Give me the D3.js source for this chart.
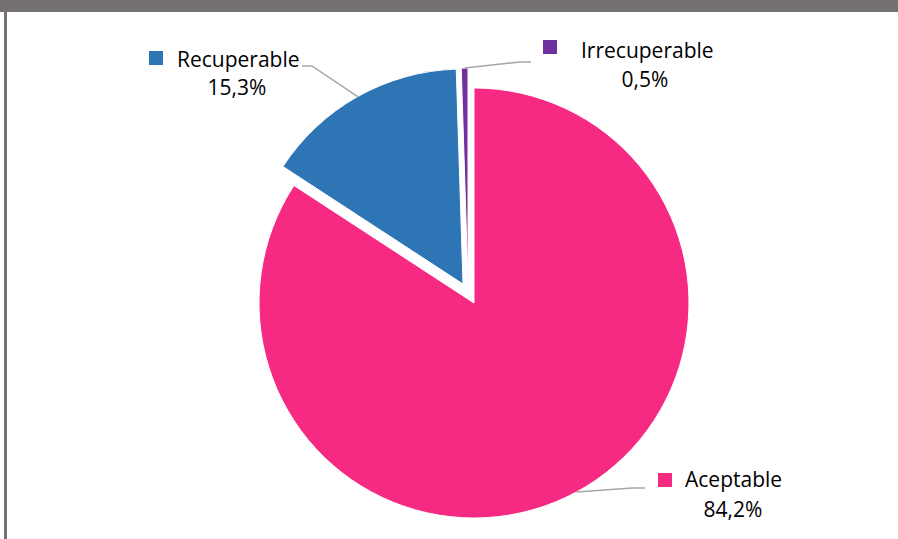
<!DOCTYPE html>
<html>
<head>
<meta charset="utf-8">
<script src="https://cdn.jsdelivr.net/npm/d3@7"></script>
<style>
  body { margin: 0; background: #fff; }
  svg { display: block; }
</style>
</head>
<body>
<script>
// chart data
var categories = ["Aceptable", "Recuperable", "Irrecuperable"];
var values = [84.2, 15.3, 0.5];
var labels = ["84,2%", "15,3%", "0,5%"];
var colors = ["#F62A82", "#2E75B6", "#7030A0"];

const w = 898;
const h = 539;
const cx = 474, cy = 303, radius = 215;
const font = "'Open Sans', Lato, sans-serif";

// exploded slice shifts (px)
var shift = {
  "Aceptable": [0, 0],
  "Recuperable": [-11, -19],
  "Irrecuperable": [-6, -20]
};

var dataset = categories.map(function (c, i) {
  return { name: c, value: values[i], label: labels[i], color: colors[i] };
});

var svg = d3.select("body").append("svg")
  .attr("width", w)
  .attr("height", h);

// frame
svg.append("rect").attr("x", 0).attr("y", 0).attr("width", w).attr("height", 12).attr("fill", "#767171");
svg.append("rect").attr("x", 4).attr("y", 0).attr("width", 3).attr("height", h).attr("fill", "#767171");

var pie = d3.pie().sort(null).value(function (d) { return d.value; });
var arc = d3.arc().innerRadius(0).outerRadius(radius);

var arcs = pie(dataset);

var g = svg.append("g").attr("transform", "translate(" + cx + "," + cy + ")");

g.selectAll("path.slice")
  .data(arcs)
  .enter()
  .append("path")
  .attr("class", "slice")
  .attr("transform", function (d) { var o = shift[d.data.name]; return "translate(" + o[0] + "," + o[1] + ")"; })
  .attr("d", arc)
  .attr("fill", function (d) { return d.data.color; })
  .attr("stroke", "#fff")
  .attr("stroke-width", 1);

// label layout: elbow point, line end, legend square, texts
var labelPos = {
  "Recuperable": { elbow: [312, 66], end: [302, 66], sq: [149, 51], tx: 177, ty: 67, px: 237, py: 95 },
  "Irrecuperable": { elbow: [520, 62], end: [531, 62], sq: [543, 40], tx: 581, ty: 58, px: 645, py: 87 },
  "Aceptable": { elbow: [632, 488], end: [645, 488], sq: [658, 473], tx: 685, ty: 487, px: 733, py: 517 }
};

var labelG = svg.append("g");

arcs.forEach(function (a) {
  var p = labelPos[a.data.name];
  var m = (a.startAngle + a.endAngle) / 2;
  var o = shift[a.data.name];
  var sx = cx + o[0] + Math.sin(m) * radius;
  var sy = cy + o[1] - Math.cos(m) * radius;

  labelG.append("polyline")
    .attr("points", [[sx, sy], p.elbow, p.end].map(function (q) { return q.join(","); }).join(" "))
    .attr("fill", "none")
    .attr("stroke", "#a6a6a6")
    .attr("stroke-width", 1.5);

  labelG.append("rect")
    .attr("x", p.sq[0]).attr("y", p.sq[1])
    .attr("width", 14).attr("height", 14)
    .attr("fill", a.data.color);

  labelG.append("text")
    .attr("x", p.tx).attr("y", p.ty)
    .attr("font-family", font)
    .attr("font-size", 21)
    .attr("fill", "#000")
    .text(a.data.name);

  labelG.append("text")
    .attr("x", p.px).attr("y", p.py)
    .attr("text-anchor", "middle")
    .attr("font-family", font)
    .attr("font-size", 21)
    .attr("fill", "#000")
    .text(a.data.label);
});
</script>
</body>
</html>
